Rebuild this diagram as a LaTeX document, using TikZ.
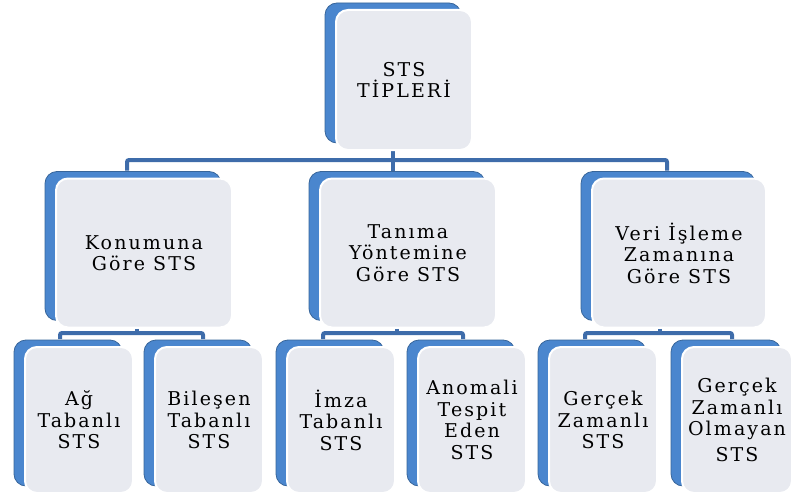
\documentclass[tikz,border=0pt]{standalone}
\usepackage{fontspec}
\usepackage{xcolor}
\usepackage{tikz}
\usetikzlibrary{shadows, backgrounds}
\newfontfamily\boxfont{DejaVu Serif}[LetterSpace=11]
\definecolor{boxblue}{RGB}{74,134,206}
\definecolor{linkblue}{RGB}{62,108,170}
\definecolor{frontgray}{RGB}{232,234,240}

\begin{document}
\begin{tikzpicture}[x=1pt, y=-1pt,
    every node/.style={rectangle, rounded corners=12pt, fill=frontgray, draw=white, line width=2pt,
        align=center, inner sep=1pt, text=black, font=\boxfont\fontsize{19}{21.5}\selectfont,
        general shadow={shadow xshift=-11pt, shadow yshift=7pt, fill=boxblue, draw=boxblue!75!black, line width=0.8pt}},
    mid/.style={minimum width=176pt, minimum height=149pt},
    leaf/.style={minimum width=108pt, minimum height=146pt},
    link/.style={draw=linkblue, line width=4pt, rounded corners=2pt}]
    \useasboundingbox (0,0) rectangle (792,500);

    \node[minimum width=136pt, minimum height=140pt] (top) at (404,80) {STS\\TİPLERİ};

    \node[mid] (konum) at (144,253) {Konumuna\\Göre STS};
    \node[mid] (tanima) at (408,253) {Tanıma\\Yöntemine\\Göre STS};
    \node[mid, minimum width=174pt] (veri) at (679,253) {Veri İşleme\\Zamanına\\Göre STS};

    \node[leaf] (ag) at (79,420) {Ağ\\Tabanlı\\STS};
    \node[leaf] (bilesen) at (209,420) {Bileşen\\Tabanlı\\STS};
    \node[leaf] (imza) at (341,420) {İmza\\Tabanlı\\STS};
    \node[leaf] (anomali) at (472,420) {Anomali\\Tespit\\Eden\\STS};
    \node[leaf] (gercek) at (603,420) {Gerçek\\Zamanlı\\STS};
    \node[leaf, minimum width=110pt] (olmayan) at (737,420) {Gerçek\\Zamanlı\\Olmayan\\[4pt]STS};

    \coordinate (hub) at (393,160);
    \coordinate (hubA) at (137,333);
    \coordinate (hubB) at (397,333);
    \coordinate (hubC) at (660,333);

    \begin{scope}[on background layer]
    \draw[link] ([xshift=-11pt]top.south) -- (hub);
    \draw[link] ([xshift=-17pt,yshift=7pt]konum.north) |- (hub) -| ([xshift=-12pt,yshift=7pt]veri.north);
    \draw[link] (hub) -- ([xshift=-15pt,yshift=7pt]tanima.north);

    \draw[link] ([xshift=-7pt]konum.south) -- (hubA);
    \draw[link] ([xshift=-19pt,yshift=7pt]ag.north) |- (hubA) -| ([xshift=-6pt,yshift=7pt]bilesen.north);
    \draw[link] ([xshift=-11pt]tanima.south) -- (hubB);
    \draw[link] ([xshift=-18pt,yshift=7pt]imza.north) |- (hubB) -| ([xshift=-9pt,yshift=7pt]anomali.north);
    \draw[link] ([xshift=-19pt]veri.south) -- (hubC);
    \draw[link] ([xshift=-18pt,yshift=7pt]gercek.north) |- (hubC) -| ([xshift=-5pt,yshift=7pt]olmayan.north);
    \end{scope}
\end{tikzpicture}
\end{document}
